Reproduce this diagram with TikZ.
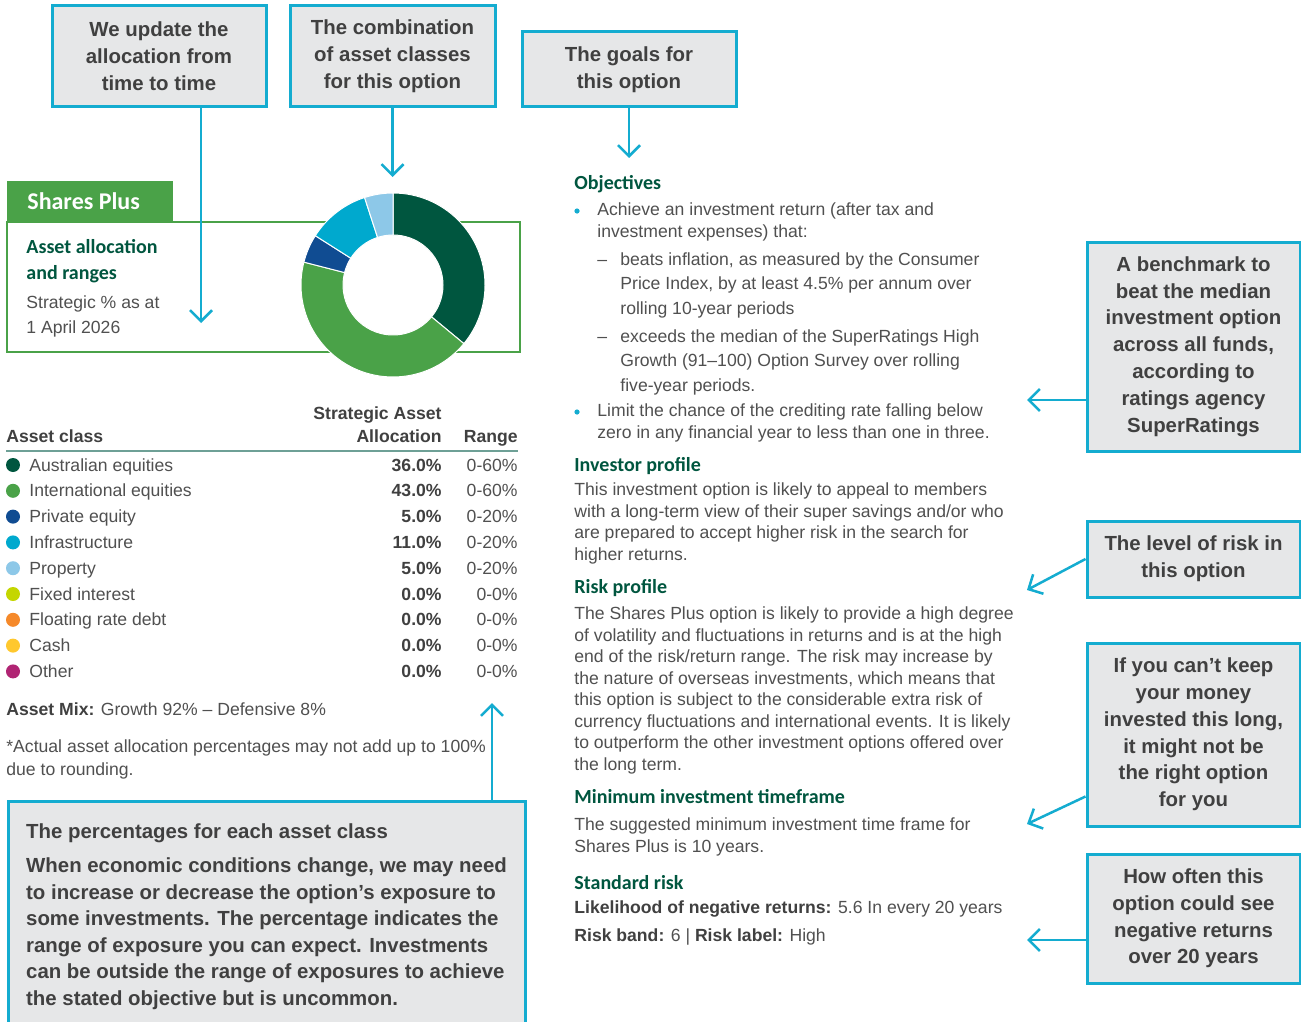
\documentclass[tikz,border=0pt]{standalone}
\usepackage{fontspec}
\setmainfont{Liberation Sans}
\newfontfamily\headfont{Carlito}
\usetikzlibrary{arrows.meta}
\definecolor{calloutblue}{RGB}{20,172,208}
\definecolor{boxgray}{RGB}{230,231,232}
\definecolor{calltext}{RGB}{64,64,64}
\definecolor{bodygray}{RGB}{80,80,80}
\definecolor{headgray}{RGB}{64,64,64}
\definecolor{sharegreen}{RGB}{74,162,72}
\definecolor{darkgreen}{RGB}{0,86,63}
\definecolor{peblue}{RGB}{16,76,146}
\definecolor{infrablue}{RGB}{0,169,206}
\definecolor{propblue}{RGB}{141,200,232}
\definecolor{fixedlime}{RGB}{196,214,0}
\definecolor{floatorange}{RGB}{245,137,42}
\definecolor{cashyellow}{RGB}{255,200,46}
\definecolor{otherpink}{RGB}{176,36,115}
\definecolor{rulegreen}{RGB}{110,160,150}
\tikzset{
	callout/.style={draw=calloutblue, line width=1.5pt, fill=boxgray, text=calltext, align=center, inner sep=0pt, font=\bfseries\fontsize{10.2}{13.4}\selectfont, execute at begin node=\rule{0pt}{10pt}},
	pointer/.style={draw=calloutblue, line width=1.25pt, -{Straight Barb[width=11pt,length=5.5pt]}},
	bodytext/.style={anchor=base west, inner sep=0pt, text=bodygray, align=left, font=\fontsize{8.8}{10.75}\selectfont},
	headtext/.style={anchor=base west, inner sep=0pt, text=darkgreen, align=left, font=\headfont\bfseries\fontsize{10}{13}\selectfont},
	tablehead/.style={anchor=base west, inner sep=0pt, text=headgray, align=right, font=\bfseries\fontsize{8.8}{11.5}\selectfont}
}
\begin{document}
\begin{tikzpicture}[x=0.5pt, y=-0.5pt]
	\path[fill=white, use as bounding box] (0,0) rectangle (1301,1022);
	\draw[sharegreen, line width=1pt] (7,222) rectangle (520,352);
	\fill[sharegreen] (7,181) rectangle (173,222);
	\node[anchor=base west, inner sep=0pt, text=white, font=\headfont\bfseries\fontsize{12}{14}\selectfont] (title) at (27,209) {Shares Plus};
	\node[headtext] (allochead) at (26,279) {Asset allocation\\and ranges};
	\node[bodytext, font=\fontsize{8.8}{12.5}\selectfont] (asat) at (26,333) {Strategic \% as at\\1 April 2026};
	\coordinate (piec) at (393,285);
	\foreach \a/\b/\col in {-90/39.6/darkgreen, 39.6/194.4/sharegreen, 194.4/212.4/peblue, 212.4/252/infrablue, 252/270/propblue}
		\filldraw[fill=\col, draw=white, line width=0.5pt] ([shift={(\a:92)}]piec) arc[start angle=\a, end angle=\b, radius=92] -- ([shift={(\b:50)}]piec) arc[start angle=\b, end angle=\a, radius=50] -- cycle;
	\node[callout, minimum width=107pt, minimum height=50.5pt] (update) at (159,56.5) {We update the\\allocation from\\time to time};
	\node[callout, minimum width=102.5pt, minimum height=50.5pt] (combo) at (392.5,56.5) {The combination\\of asset classes\\for this option};
	\node[callout, minimum width=107pt, minimum height=37.5pt] (goals) at (629,69.5) {The goals for\\this option};
	\coordinate (updatetip) at (201,323);
	\coordinate (combotip) at (392.5,177);
	\coordinate (goalstip) at (629,158);
	\draw[pointer] (update.south -| updatetip) -- (updatetip);
	\draw[pointer] (combo.south) -- (combotip);
	\draw[pointer] (goals.south) -- (goalstip);
	\node[tablehead] (hclass) at (6,442) {Asset class};
	\node[tablehead, anchor=base east] (halloc) at (442,442) {Strategic Asset\\Allocation};
	\node[tablehead, anchor=base east] (hrange) at (518,442) {Range};
	\draw[rulegreen, line width=0.9pt] (6,451) -- (518,451);
	\foreach \lab/\col/\pct/\rng [count=\i] in {Australian equities/darkgreen/36.0/0-60, International equities/sharegreen/43.0/0-60, Private equity/peblue/5.0/0-20, Infrastructure/infrablue/11.0/0-20, Property/propblue/5.0/0-20, Fixed interest/fixedlime/0.0/0-0, Floating rate debt/floatorange/0.0/0-0, Cash/cashyellow/0.0/0-0, Other/otherpink/0.0/0-0} {
		\fill[\col] (13,{465+(\i-1)*25.8}) circle (7);
		\node[bodytext] (class\i) at (29,{471+(\i-1)*25.8}) {\lab};
		\node[tablehead, anchor=base east] (pct\i) at (442,{471+(\i-1)*25.8}) {\pct\%};
		\node[bodytext, anchor=base east] (rng\i) at (518,{471+(\i-1)*25.8}) {\rng\%};
	}
	\node[bodytext] (mix) at (6,715) {\textcolor{headgray}{\bfseries Asset Mix:} Growth 92\% – Defensive 8\%};
	\node[bodytext, font=\fontsize{8.8}{11.5}\selectfont] (note) at (6,775) {*Actual asset allocation percentages may not add up to 100\%\\due to rounding.};
	\node[callout, align=left, anchor=north, minimum width=258.5pt, minimum height=115pt, font=\bfseries\fontsize{10.2}{13.25}\selectfont, execute at begin node={}] (pct) at (266.5,800) {The percentages for each asset class\\[3.75pt]When economic conditions change, we may need\\to increase or decrease the option’s exposure to\\some investments. The percentage indicates the\\range of exposure you can expect. Investments\\can be outside the range of exposures to achieve\\the stated objective but is uncommon.};
	\coordinate (pcttip) at (492,703);
	\draw[pointer] (pcttip |- pct.north) -- (pcttip);
	\node[headtext] (objhead) at (574,189) {Objectives};
	\fill[calloutblue] (577,211) circle (2.6);
	\node[bodytext] (obj1) at (597,237) {Achieve an investment return (after tax and\\investment expenses) that:};
	\node[bodytext] (dash1) at (597,265) {–};
	\node[bodytext, font=\fontsize{8.8}{12.25}\selectfont] (obj2) at (620,314) {beats inflation, as measured by the Consumer\\Price Index, by at least 4.5\% per annum over\\rolling 10-year periods};
	\node[bodytext] (dash2) at (597,342) {–};
	\node[bodytext, font=\fontsize{8.8}{12.25}\selectfont] (obj3) at (620,391) {exceeds the median of the SuperRatings High\\Growth (91–100) Option Survey over rolling\\five-year periods.};
	\fill[calloutblue] (577,412) circle (2.6);
	\node[bodytext] (obj4) at (597,438) {Limit the chance of the crediting rate falling below\\zero in any financial year to less than one in three.};
	\node[headtext] (invhead) at (574,471) {Investor profile};
	\node[bodytext] (inv) at (574,560) {This investment option is likely to appeal to members\\with a long-term view of their super savings and/or who\\are prepared to accept higher risk in the search for\\higher returns.};
	\node[headtext] (riskhead) at (574,593) {Risk profile};
	\node[bodytext] (risk) at (574,770) {The Shares Plus option is likely to provide a high degree\\of volatility and fluctuations in returns and is at the high\\end of the risk/return range. The risk may increase by\\the nature of overseas investments, which means that\\this option is subject to the considerable extra risk of\\currency fluctuations and international events. It is likely\\to outperform the other investment options offered over\\the long term.};
	\node[headtext] (timehead) at (574,803) {Minimum investment timeframe};
	\node[bodytext] (time) at (574,852) {The suggested minimum investment time frame for\\Shares Plus is 10 years.};
	\node[headtext] (stdhead) at (574,889) {Standard risk};
	\node[bodytext] (likely) at (574,913) {\textcolor{headgray}{\bfseries Likelihood of negative returns:} 5.6 In every 20 years};
	\node[bodytext] (band) at (574,941) {\textcolor{headgray}{\bfseries Risk band:} 6 | \textcolor{headgray}{\bfseries Risk label:} High};
	\node[callout, minimum width=106.5pt, minimum height=104.5pt] (bench) at (1193.5,346.5) {A benchmark to\\beat the median\\investment option\\across all funds,\\according to\\ratings agency\\SuperRatings};
	\node[callout, minimum width=106.5pt, minimum height=38pt] (level) at (1193.5,559) {The level of risk in\\this option};
	\node[callout, minimum width=106.5pt, minimum height=91.5pt] (keep) at (1193.5,734.5) {If you can’t keep\\your money\\invested this long,\\it might not be\\the right option\\for you};
	\node[callout, minimum width=106.5pt, minimum height=64.5pt] (often) at (1193.5,918.5) {How often this\\option could see\\negative returns\\over 20 years};
	\coordinate (benchtip) at (1027,400);
	\coordinate (leveltip) at (1027,590);
	\coordinate (keeptip) at (1027,824);
	\coordinate (oftentip) at (1027,940);
	\draw[pointer] (benchtip -| bench.west) -- (benchtip);
	\draw[pointer] (level.west) -- (leveltip);
	\draw[pointer] ([yshift=15.5pt]keep.south west) -- (keeptip);
	\draw[pointer] (oftentip -| often.west) -- (oftentip);
\end{tikzpicture}
\end{document}
